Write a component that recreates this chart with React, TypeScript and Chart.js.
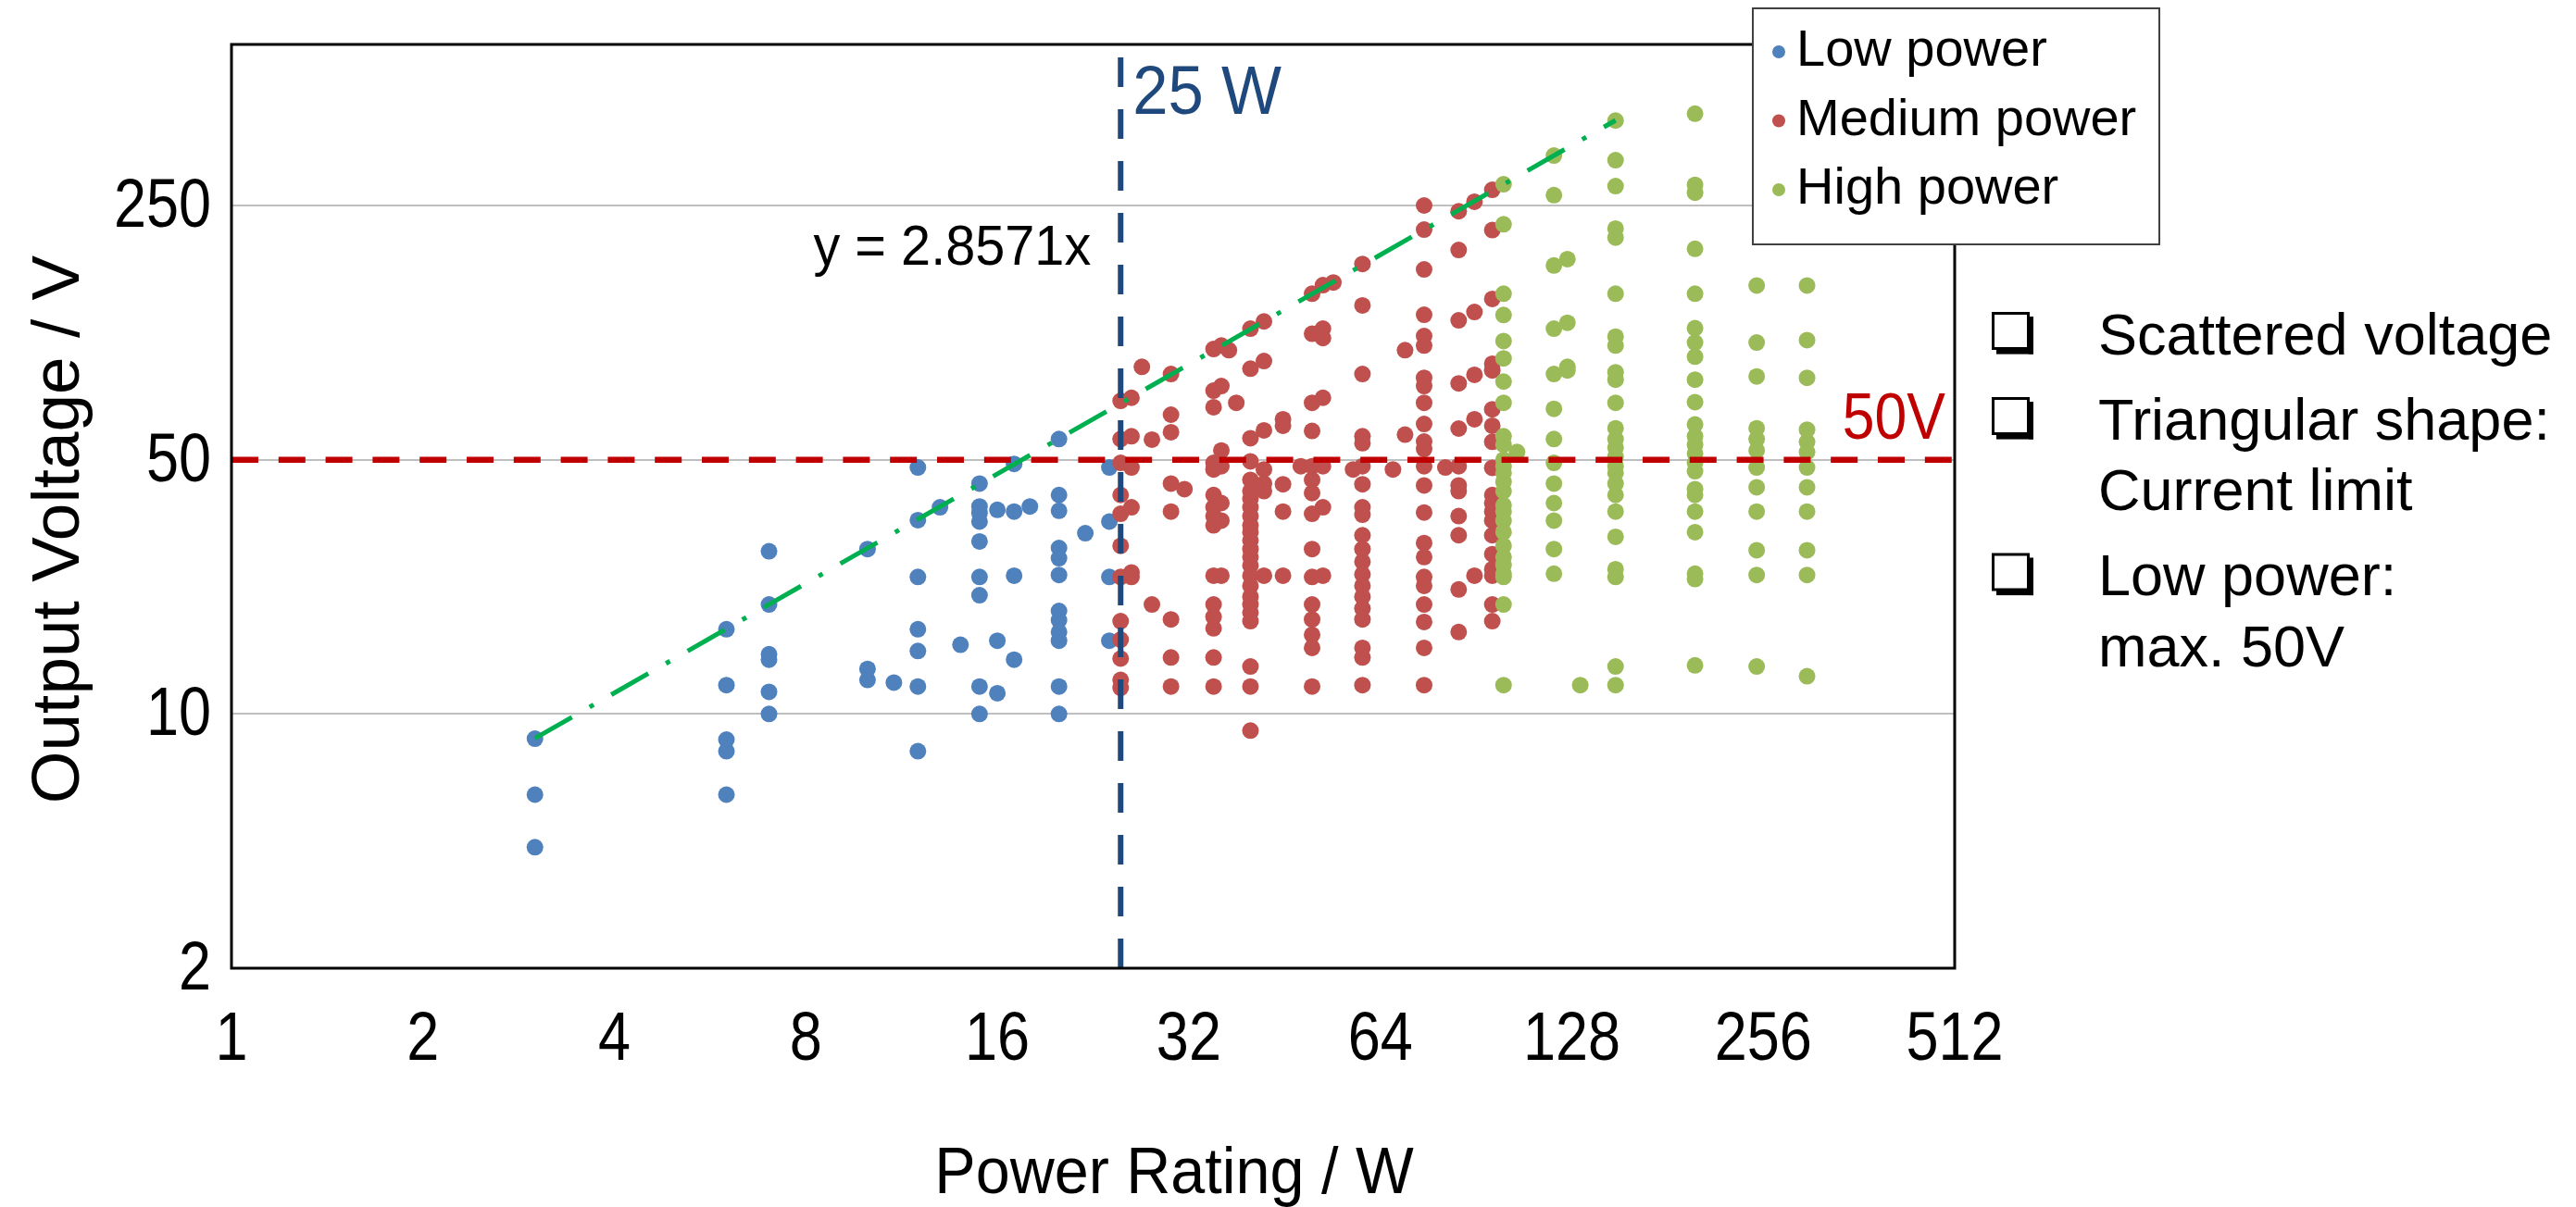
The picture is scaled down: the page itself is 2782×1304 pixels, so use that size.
import React, { useEffect, useRef } from "react";
import { Chart, registerables } from "chart.js";

Chart.register(...registerables);

// ---------- axes ----------
const xTickValues = [1, 2, 4, 8, 16, 32, 64, 128, 256, 512];
const yTickValues = [2, 10, 50, 250];
const X_MIN = 1;
const X_MAX = 512;
const Y_MIN = 2;
const Y_MAX = 693;

// ---------- series ----------
const seriesLabels = ["Low power", "Medium power", "High power"];
const seriesColors = ["#4f81bd", "#c0504d", "#9bbb59"];

// [power rating W, output voltages V]
const lowPower: [number, number[]][] = [
  [3, [8.55, 6, 4.3]],
  [6, [17.1, 12, 8.5, 7.9, 6]],
  [7, [28, 20, 14.6, 14.1, 11.5, 10]],
  [10, [28.4, 13.3, 12.4]],
  [11, [12.2]],
  [12, [47.6, 34.1, 23.8, 17.1, 14.9, 11.9, 7.9]],
  [13, [37]],
  [14, [15.5]],
  [15, [43, 37.2, 35.7, 33.8, 29.8, 23.8, 21.2, 11.9, 10]],
  [16, [36.4, 15.9, 11.4]],
  [17, [48.7, 36, 24, 14.1]],
  [18, [37.2]],
  [20, [57, 40, 36.2, 28.6, 26.8, 24.1, 19.2, 18.1, 16.8, 15.9, 11.9, 10]],
  [22, [31.4]],
  [24, [47.6, 33.8, 23.8, 15.9]],
];

const mediumPower: [number, number[]][] = [
  [25, [72.6, 57, 49, 40, 35.5, 29, 23.8, 18, 16, 14.2, 12.4, 11.8]],
  [26, [74, 58, 47.6, 37, 24.5, 23.8]],
  [27, [90]],
  [28, [56.8, 20]],
  [30, [86, 66.5, 59.5, 43, 36, 18.2, 14.3, 11.9]],
  [31.5, [41.5]],
  [35, [100.8, 77.4, 69.7, 49, 47, 40, 37, 35, 33, 24, 20, 18.5, 17.2, 14.3, 11.9]],
  [36, [103, 79.7, 53, 48, 38, 34, 24]],
  [37, [100]],
  [38, [71.7]],
  [40, [114.6, 89, 57.3, 49.5, 44, 41, 39, 37, 35, 33, 31.6, 30, 28.4, 27, 25.6, 24, 22.5, 21, 20, 19, 18, 13.5, 11.9, 9]],
  [42, [120, 93.4, 60.2, 47, 43, 41, 24]],
  [45, [64.6, 62, 42.8, 36, 24]],
  [48, [48]],
  [50, [143, 111, 71.7, 60, 48, 44, 40.5, 35.5, 28.4, 23.8, 20, 18.2, 16.5, 15.2, 11.9]],
  [52, [151, 114.6, 108, 74, 48, 37, 24]],
  [54, [153.6]],
  [58, [47]],
  [60, [172.7, 132.8, 86, 58, 55.5, 48, 42.8, 37, 35.3, 31, 28.4, 26.2, 24.2, 22.5, 21, 19.5, 18.2, 15.2, 14.3, 12]],
  [67, [47]],
  [70, [100, 58.6]],
  [75, [250, 214.6, 166.8, 125.2, 109.4, 103, 84, 79.7, 71.7, 62.7, 56.1, 53.5, 48, 42.5, 35.8, 29.5, 27, 23.8, 22.5, 20, 17.9, 15.2, 12]],
  [81, [47.6]],
  [85, [241, 188.6, 120.8, 81.1, 60.9, 48, 42.5, 41, 35, 31, 22, 16.8]],
  [90, [256, 127.4, 85.6, 64.6, 24]],
  [96, [276, 214, 138.4, 91.8, 88, 68.8, 62, 56, 47.5, 40, 38, 36, 34, 31, 27.5, 25, 24, 20, 18]],
];

const highPower: [number, number[]][] = [
  [100, [286, 222, 143, 125, 106, 95, 82, 71.7, 58, 55, 50, 48, 46, 43.5, 41, 37.5, 36, 34, 31.6, 29, 27, 25.7, 24.3, 23.8, 20, 12]],
  [105, [52.5]],
  [120, [343, 267, 171, 114.6, 86, 69, 57, 49, 43, 38, 34, 28.4, 24.3]],
  [126, [178, 119, 90, 88]],
  [132, [12]],
  [150, [428, 333, 282.6, 216, 204, 143, 109, 103, 87, 83, 71.7, 61, 57, 54, 51, 48, 46, 43, 40, 36, 30.7, 25, 23.8, 13.5, 12]],
  [200, [447, 285, 271, 190, 143, 115, 105, 96, 83, 72, 62.5, 58, 55, 52, 49, 46.5, 41.5, 40, 36, 31.6, 24.3, 23.5, 13.6]],
  [250, [150.7, 105, 84.7, 61, 57, 53, 47.6, 42, 36, 28.2, 24.1, 13.5]],
  [300, [150.7, 106.6, 84, 60.5, 56, 52.5, 47.6, 42, 36, 28.2, 24.1, 12.7]],
];

// trend line y = 2.8571x, end points [W, V]
const trendLabel = "y = 2.8571x";
const trendPoints: [number, number][] = [
  [3, 8.571],
  [150, 428.6],
];

// reference limits
const POWER_LIMIT = 25;
const VOLTAGE_LIMIT = 50;
const powerLimitLabel = "25 W";
const voltageLimitLabel = "50V";

const xTitle = "Power Rating / W";
const yTitle = "Output Voltage / V";

const notes: string[][] = [
  ["Scattered voltage"],
  ["Triangular shape:", "Current limit"],
  ["Low power:", "max. 50V"],
];

const SANS = '"Liberation Sans", Arial, Helvetica, sans-serif';

function toPoints(cols: [number, number[]][]) {
  const out: { x: number; y: number }[] = [];
  cols.forEach(([p, vs]) => vs.forEach((v) => out.push({ x: p, y: v })));
  return out;
}

function drawText(
  ctx: CanvasRenderingContext2D,
  text: string,
  x: number,
  y: number,
  o: { size: number; family?: string; color?: string; align?: CanvasTextAlign; scaleX?: number; rotate?: number }
) {
  ctx.save();
  ctx.translate(x, y);
  if (o.rotate) ctx.rotate(o.rotate);
  ctx.scale(o.scaleX ?? 1, 1);
  ctx.font = `${o.size}px ${o.family ?? SANS}`;
  ctx.fillStyle = o.color ?? "#000";
  ctx.textAlign = o.align ?? "left";
  ctx.textBaseline = "alphabetic";
  ctx.fillText(text, 0, 0);
  ctx.restore();
}

const overlayPlugin = {
  id: "overlay",
  afterDraw(chart: any) {
    const { ctx, chartArea: a, scales } = chart;
    const xs = scales.x;
    const ys = scales.y;
    ctx.save();

    // plot frame
    ctx.strokeStyle = "#000";
    ctx.lineWidth = 3;
    ctx.strokeRect(a.left, a.top, a.right - a.left, a.bottom - a.top);

    // tick labels (condensed, placed by the scales)
    xTickValues.forEach((v) => {
      drawText(ctx, String(v), xs.getPixelForValue(v), a.bottom + 99, { size: 75, align: "center", scaleX: 0.84 });
    });
    yTickValues.forEach((v) => {
      drawText(ctx, String(v), a.left - 22, ys.getPixelForValue(v) + 23, { size: 75, align: "right", scaleX: 0.84 });
    });

    // annotation texts
    const px25 = xs.getPixelForValue(POWER_LIMIT);
    drawText(ctx, powerLimitLabel, px25 + 13, a.top + 75, { size: 74, color: "#1f497d", scaleX: 0.93 });
    drawText(ctx, trendLabel, px25 - 32, a.top + 238, { size: 62, color: "#000", align: "right", scaleX: 0.93 });
    const py50 = ys.getPixelForValue(VOLTAGE_LIMIT);
    drawText(ctx, voltageLimitLabel, a.right - 10, py50 - 23, { size: 71, color: "#c00000", align: "right", scaleX: 0.88 });

    // legend box
    const lx = 1893, ly = 9, lw = 439, lh = 255;
    ctx.fillStyle = "#fff";
    ctx.fillRect(lx, ly, lw, lh);
    ctx.strokeStyle = "#404040";
    ctx.lineWidth = 2;
    ctx.strokeRect(lx, ly, lw, lh);
    seriesLabels.forEach((lab, i) => {
      const cy = 56 + i * 74.5;
      ctx.beginPath();
      ctx.fillStyle = seriesColors[i];
      ctx.arc(lx + 28, cy, 7, 0, Math.PI * 2);
      ctx.fill();
      drawText(ctx, lab, lx + 47, cy + 15, { size: 56, color: "#000" });
    });

    // right-hand notes
    let base = 382.6;
    notes.forEach((lines, i) => {
      if (i > 0) base += 92;
      const bx = 2151, by = base - 45.6;
      ctx.strokeStyle = "#000";
      ctx.lineWidth = 3;
      ctx.strokeRect(bx + 1.5, by + 1.5, 38, 38);
      ctx.fillStyle = "#000";
      ctx.fillRect(bx + 40, by + 5, 5, 40.6);
      ctx.fillRect(bx + 5, by + 40, 40, 5.6);
      lines.forEach((t, j) => {
        if (j > 0) base += 76.5;
        drawText(ctx, t, 2266, base, { size: 63, color: "#000" });
      });
    });

    // axis titles
    drawText(ctx, xTitle, 1268, 1289, { size: 70, align: "center", scaleX: 0.95 });
    drawText(ctx, yTitle, 85, 572, { size: 73, align: "center", rotate: -Math.PI / 2 });

    ctx.restore();
  },
};

export default function App() {
  const ref = useRef<HTMLCanvasElement | null>(null);

  useEffect(() => {
    if (!ref.current) return;
    const pointStyle = (i: number) => ({
      pointRadius: 9,
      pointHoverRadius: 9,
      pointBorderWidth: 0,
      pointBackgroundColor: seriesColors[i],
      backgroundColor: seriesColors[i],
      borderColor: seriesColors[i],
      showLine: false,
    });
    const chart = new Chart(ref.current, {
      type: "scatter",
      data: {
        datasets: [
          { label: seriesLabels[0], data: toPoints(lowPower), order: 5, ...pointStyle(0) },
          { label: seriesLabels[1], data: toPoints(mediumPower), order: 4, ...pointStyle(1) },
          { label: seriesLabels[2], data: toPoints(highPower), order: 3, ...pointStyle(2) },
          {
            type: "line",
            label: "trend",
            data: trendPoints.map(([x, y]) => ({ x, y })),
            order: 2,
            showLine: true,
            pointRadius: 0,
            borderColor: "#00b050",
            borderWidth: 5,
            borderDash: [46, 22, 5, 22],
            fill: false,
          } as any,
          {
            type: "line",
            label: "voltage limit",
            data: [
              { x: X_MIN, y: VOLTAGE_LIMIT },
              { x: X_MAX, y: VOLTAGE_LIMIT },
            ],
            order: 1,
            showLine: true,
            pointRadius: 0,
            borderColor: "#c00000",
            borderWidth: 6.5,
            borderDash: [29, 21.8],
            fill: false,
          } as any,
          {
            type: "line",
            label: "power limit",
            data: [
              { x: POWER_LIMIT, y: Y_MIN },
              { x: POWER_LIMIT, y: Y_MAX },
            ],
            order: 0,
            showLine: true,
            pointRadius: 0,
            borderColor: "#1f497d",
            borderWidth: 6,
            borderDash: [32, 24],
            fill: false,
          } as any,
        ],
      },
      options: {
        animation: false,
        responsive: false,
        maintainAspectRatio: false,
        layout: { padding: { top: 48, right: 671, left: 0, bottom: 0 } },
        plugins: {
          legend: { display: false },
          tooltip: { enabled: false },
          title: { display: false },
        },
        scales: {
          x: {
            type: "logarithmic",
            min: X_MIN,
            max: X_MAX,
            afterBuildTicks: (s: any) => {
              s.ticks = xTickValues.map((v) => ({ value: v }));
            },
            afterFit: (s: any) => {
              s.height = 258;
            },
            ticks: { display: false, autoSkip: false },
            grid: { display: false, drawTicks: false },
            border: { display: false },
            title: { display: false },
          },
          y: {
            type: "logarithmic",
            min: Y_MIN,
            max: Y_MAX,
            afterBuildTicks: (s: any) => {
              s.ticks = yTickValues.map((v) => ({ value: v }));
            },
            afterFit: (s: any) => {
              s.width = 250;
            },
            ticks: { display: false, autoSkip: false },
            grid: { color: "#bfbfbf", lineWidth: 2, drawTicks: false },
            border: { display: false },
            title: { display: false },
          },
        },
      },
      plugins: [overlayPlugin],
    } as any);
    return () => chart.destroy();
  }, []);

  return (
    <div style={{ position: "fixed", left: 0, top: 0, width: 2782, height: 1304, background: "#fff" }}>
      <canvas ref={ref} width={2782} height={1304} style={{ display: "block", width: 2782, height: 1304 }} />
    </div>
  );
}
